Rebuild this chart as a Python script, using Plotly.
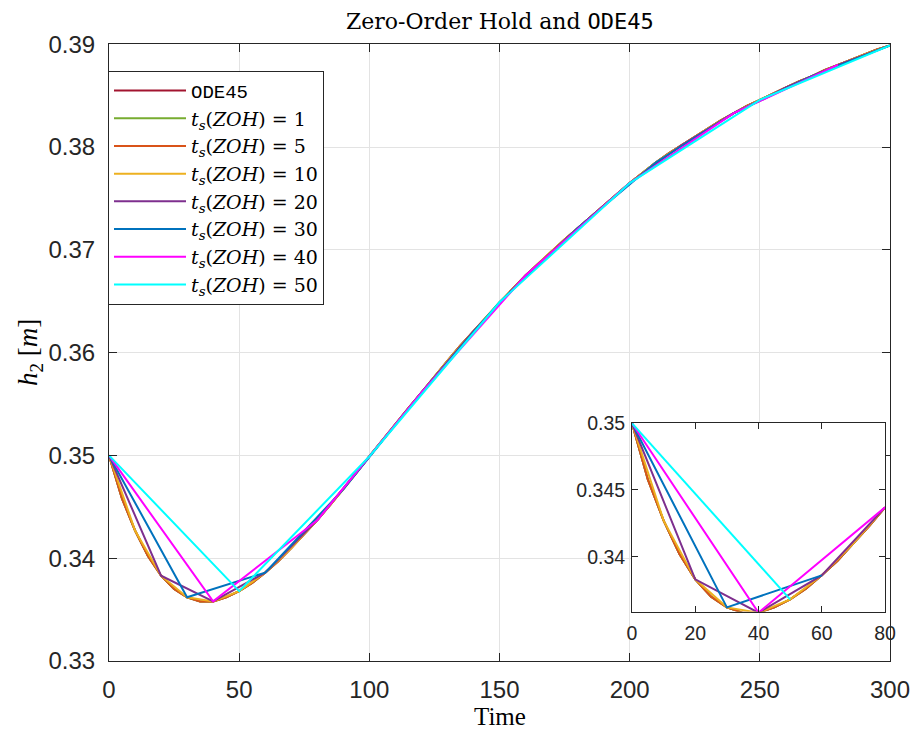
import plotly.graph_objects as go

# ---------------- data ----------------
t_ode = list(range(0, 301, 5))
h_ode = [0.3500, 0.3458, 0.3427, 0.3402, 0.3383, 0.3370, 0.3362, 0.3358, 0.3358, 0.3362,
         0.3368, 0.3376, 0.3386, 0.3397, 0.3410, 0.3423, 0.3437, 0.3452, 0.3467, 0.3483,
         0.3499, 0.3515, 0.3530, 0.3546, 0.3561, 0.3577, 0.3592, 0.3607, 0.3621, 0.3635,
         0.3649, 0.3662, 0.3675, 0.3687, 0.3699, 0.3710, 0.3721, 0.3732, 0.3743, 0.3754,
         0.3765, 0.3775, 0.3785, 0.3794, 0.3802, 0.3810, 0.3818, 0.3826, 0.3833, 0.3840,
         0.3846, 0.3852, 0.3858, 0.3864, 0.3869, 0.3875, 0.3880, 0.3885, 0.3890, 0.3895,
         0.3899]

t_zoh1 = t_ode
h_zoh1 = h_ode
t_zoh5 = t_ode
h_zoh5 = h_ode

t_zoh10 = list(range(0, 301, 10))
h_zoh10 = [0.3500, 0.3427, 0.3383, 0.3362, 0.3358, 0.3368, 0.3386, 0.3410, 0.3437, 0.3467,
           0.3499, 0.3530, 0.3561, 0.3592, 0.3621, 0.3649, 0.3675, 0.3699, 0.3721, 0.3743,
           0.3765, 0.3785, 0.3802, 0.3818, 0.3833, 0.3846, 0.3858, 0.3869, 0.3880, 0.3890,
           0.3899]

t_zoh20 = list(range(0, 301, 20))
h_zoh20 = [0.3500, 0.3383, 0.3358, 0.3386, 0.3437, 0.3499, 0.3561, 0.3621, 0.3675, 0.3721,
           0.3765, 0.3802, 0.3833, 0.3858, 0.3880, 0.3899]

t_zoh30 = list(range(0, 301, 30))
h_zoh30 = [0.3500, 0.3362, 0.3386, 0.3467, 0.3561, 0.3649, 0.3721, 0.3785, 0.3833, 0.3869,
           0.3899]

t_zoh40 = list(range(0, 281, 40))
h_zoh40 = [0.3500, 0.3358, 0.3437, 0.3561, 0.3675, 0.3765, 0.3833, 0.3880]

t_zoh50 = list(range(0, 301, 50))
h_zoh50 = [0.3500, 0.3368, 0.3499, 0.3649, 0.3765, 0.3846, 0.3899]

inset_tmax = 80  # inset shows only the samples with t <= 80

names = ["<span style='font-family:Liberation Mono'>ODE45</span>",
         "<i>t<sub>s</sub></i>(<i>ZOH</i>) = 1",
         "<i>t<sub>s</sub></i>(<i>ZOH</i>) = 5",
         "<i>t<sub>s</sub></i>(<i>ZOH</i>) = 10",
         "<i>t<sub>s</sub></i>(<i>ZOH</i>) = 20",
         "<i>t<sub>s</sub></i>(<i>ZOH</i>) = 30",
         "<i>t<sub>s</sub></i>(<i>ZOH</i>) = 40",
         "<i>t<sub>s</sub></i>(<i>ZOH</i>) = 50"]
colors = ["#A2142F", "#77AC30", "#D95319", "#EDB120", "#7E2F8E", "#0072BD", "#FF00FF", "#00FFFF"]
series_t = [t_ode, t_zoh1, t_zoh5, t_zoh10, t_zoh20, t_zoh30, t_zoh40, t_zoh50]
series_h = [h_ode, h_zoh1, h_zoh5, h_zoh10, h_zoh20, h_zoh30, h_zoh40, h_zoh50]

main_xticks = [0, 50, 100, 150, 200, 250, 300]
main_yticks = [0.33, 0.34, 0.35, 0.36, 0.37, 0.38, 0.39]
inset_xticks = [0, 20, 40, 60, 80]
inset_yticks = [0.34, 0.345, 0.35]
inset_ytext = ["0.34", "0.345", "0.35"]

# ---------------- figure ----------------
W, H = 913, 730
fig = go.Figure()
for t, h, n, c in zip(series_t, series_h, names, colors):
    fig.add_trace(go.Scatter(x=t, y=h, name=n, mode="lines",
                             line=dict(color=c, width=2), xaxis="x", yaxis="y"))
for t, h, n, c in zip(series_t, series_h, names, colors):
    ti = [a for a in t if a <= inset_tmax]
    hi = [b for a, b in zip(t, h) if a <= inset_tmax]
    fig.add_trace(go.Scatter(x=ti, y=hi, name=n, mode="lines", showlegend=False,
                             line=dict(color=c, width=2), xaxis="x2", yaxis="y2"))

axcol = "#262626"
tickfont_main = dict(family="Liberation Sans, Arial, sans-serif", size=24, color=axcol)
tickfont_inset = dict(family="Liberation Sans, Arial, sans-serif", size=19.5, color=axcol)
serif = "DejaVu Serif, serif"

common = dict(ticks="inside", tickcolor=axcol, showline=True, linecolor=axcol, linewidth=1,
              mirror="ticks", zeroline=False, automargin=False)

fig.update_layout(
    width=W, height=H,
    margin=dict(l=0, r=0, t=0, b=0, autoexpand=False),
    paper_bgcolor="white", plot_bgcolor="white",
    showlegend=True,
    xaxis=dict(domain=[109 / W, 890 / W], range=[0, 300], tickvals=main_xticks,
               ticklen=8, showgrid=True, gridcolor="#e3e3e3", ticklabelstandoff=7,
               tickfont=tickfont_main, anchor="y", **common),
    yaxis=dict(domain=[1 - 661 / H, 1 - 44.3 / H], range=[0.33, 0.39], tickvals=main_yticks,
               tickformat=".2f", ticklen=8, showgrid=True, gridcolor="#e3e3e3",
               ticklabelstandoff=8, tickfont=tickfont_main, anchor="x", **common),
    xaxis2=dict(domain=[632 / W, 885 / W], range=[0, 80], tickvals=inset_xticks,
                ticklen=6, showgrid=False, ticklabelstandoff=4,
                tickfont=tickfont_inset, anchor="y2", **common),
    yaxis2=dict(domain=[1 - 611.5 / H, 1 - 423.3 / H], range=[0.33589, 0.35],
                tickvals=inset_yticks, ticktext=inset_ytext, ticklen=6, showgrid=False,
                ticklabelstandoff=2, tickfont=tickfont_inset, anchor="x2", **common),
    legend=dict(x=108 / W, y=1 - 70.7 / H, xanchor="left", yanchor="top",
                bgcolor="white", bordercolor=axcol, borderwidth=1,
                font=dict(family=serif, size=19, color="#000000"),
                itemwidth=72),
    annotations=[
        dict(text="Zero-Order Hold and <span style='font-family:DejaVu Sans Mono'>ODE45</span>",
             x=499.5 / W, y=1 - 21 / H, xref="paper", yref="paper", showarrow=False,
             xanchor="center", yanchor="middle",
             font=dict(family=serif, size=22, color="#000000")),
        dict(text="Time", x=499.5 / W, y=1 - 716 / H, xref="paper", yref="paper",
             showarrow=False, xanchor="center", yanchor="middle",
             font=dict(family="Liberation Serif, serif", size=25, color="#000000")),
        dict(text="<i>h</i><sub>2</sub> [<i>m</i>]", x=30 / W, y=1 - 353 / H,
             xref="paper", yref="paper", showarrow=False, textangle=-90,
             xanchor="center", yanchor="middle",
             font=dict(family="Liberation Serif, serif", size=27, color="#000000")),
    ],
)

fig.write_html("out.html")
